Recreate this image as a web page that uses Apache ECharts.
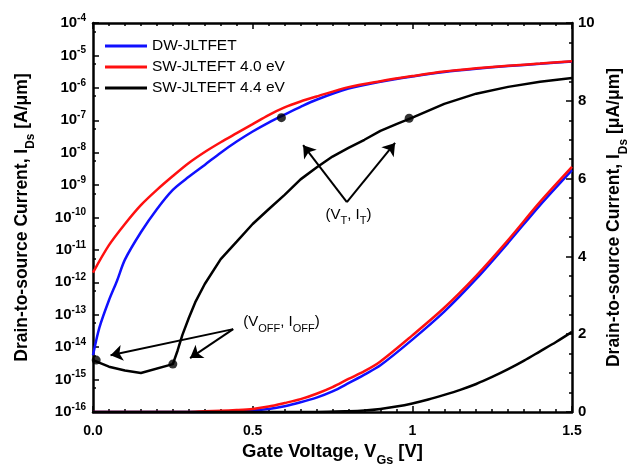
<!DOCTYPE html>
<html>
<head>
<meta charset="utf-8">
<script src="https://cdn.jsdelivr.net/npm/echarts@6/dist/echarts.min.js"></script>
<style>
  html, body { margin: 0; padding: 0; background: #fff; }
  #chart { width: 627px; height: 471px; }
</style>
</head>
<body>
<div id="chart"></div>
<script>
(function () {

    // series names (legend)
    var names = ['DW-JLTFET', 'SW-JLTEFT 4.0 eV', 'SW-JLTEFT 4.4 eV'];
    var colors = ['#1010ff', '#ff1010', '#000000'];

    // log scale curves, left axis [A/um]
    var vLogRed = [0, 0.05, 0.1, 0.15, 0.2, 0.25, 0.3, 0.35, 0.4, 0.45, 0.5, 0.55, 0.6, 0.65, 0.7, 0.8, 0.9, 1.0, 1.1, 1.2, 1.3, 1.4, 1.5];
    var iLogRed = [2.0e-12, 1.4e-11, 6.3e-11, 2.4e-10, 7.1e-10, 1.9e-9, 4.8e-9, 1.05e-8, 2.1e-8, 4.0e-8, 7.6e-8, 1.45e-7, 2.5e-7, 3.8e-7, 5.4e-7, 1.05e-6, 1.6e-6, 2.3e-6, 3.2e-6, 4.0e-6, 4.8e-6, 5.6e-6, 6.6e-6];

    var vLogBlue = [0, 0.02, 0.05, 0.075, 0.1, 0.15, 0.2, 0.25, 0.3, 0.35, 0.4, 0.45, 0.5, 0.55, 0.6, 0.65, 0.7, 0.8, 0.9, 1.0, 1.1, 1.2, 1.3, 1.4, 1.5];
    var iLogBlue = [5.6e-15, 4.0e-14, 2.8e-13, 1.1e-12, 5.0e-12, 3.5e-11, 1.8e-10, 7.1e-10, 1.8e-9, 4.2e-9, 1.0e-8, 2.2e-8, 4.5e-8, 8.5e-8, 1.5e-7, 2.6e-7, 4.3e-7, 9.5e-7, 1.55e-6, 2.25e-6, 3.1e-6, 3.9e-6, 4.7e-6, 5.5e-6, 6.5e-6];

    var vLogBlack = [0, 0.05, 0.1, 0.15, 0.25, 0.265, 0.28, 0.3, 0.32, 0.35, 0.4, 0.45, 0.5, 0.55, 0.6, 0.65, 0.7, 0.75, 0.8, 0.85, 0.9, 0.95, 1.0, 1.1, 1.2, 1.3, 1.4, 1.5];
    var iLogBlack = [4.0e-15, 2.5e-15, 1.9e-15, 1.6e-15, 3.0e-15, 7.9e-15, 2.4e-14, 7.9e-14, 2.4e-13, 8.9e-13, 5.2e-12, 1.8e-11, 6.3e-11, 1.8e-10, 5.0e-10, 1.5e-9, 3.5e-9, 7.6e-9, 1.4e-8, 2.5e-8, 4.7e-8, 7.6e-8, 1.2e-7, 3.2e-7, 6.6e-7, 1.07e-6, 1.55e-6, 2.0e-6];

    // linear curves, right axis [uA/um]
    var vLin = [0, 0.3, 0.35, 0.4, 0.45, 0.5, 0.55, 0.6, 0.65, 0.7, 0.75, 0.8, 0.85, 0.9, 1.0, 1.1, 1.2, 1.3, 1.4, 1.5];
    var iLinRed = [0, 0, 0.02, 0.03, 0.05, 0.08, 0.14, 0.23, 0.33, 0.47, 0.64, 0.85, 1.05, 1.3, 1.97, 2.68, 3.5, 4.42, 5.4, 6.3];
    var iLinBlue = [0, 0, 0, 0.01, 0.02, 0.04, 0.08, 0.15, 0.25, 0.37, 0.53, 0.74, 0.96, 1.2, 1.86, 2.58, 3.42, 4.35, 5.32, 6.22];

    var vLinBlack = [0, 0.7, 0.8, 0.85, 0.9, 0.95, 1.0, 1.05, 1.1, 1.15, 1.2, 1.25, 1.3, 1.35, 1.4, 1.45, 1.5];
    var iLinBlack = [0, 0, 0.02, 0.04, 0.08, 0.14, 0.22, 0.32, 0.44, 0.57, 0.72, 0.9, 1.1, 1.32, 1.56, 1.8, 2.06];

    // marked points (V_OFF, I_OFF) and (V_T, I_T)
    var dotPoints = [[0.01, 4.0e-15], [0.25, 3.0e-15], [0.59, 1.2e-7], [0.99, 1.15e-7]];

    // annotation arrows: [tail, head]
    var arrows = [
        [[0.439, 3.6e-14], [0.055, 5.6e-15]],
        [[0.439, 3.6e-14], [0.304, 4.6e-15]],
        [[0.795, 3.0e-10], [0.658, 1.7e-8]],
        [[0.795, 3.0e-10], [0.946, 2.0e-8]]
    ];
    var offLabelAt = [0.59, 5.9e-14];
    var tLabelAt = [0.8, 1.2e-10];

    function pairs(xs, ys) {
        var out = [];
        for (var i = 0; i < xs.length; i++) {
            out.push([xs[i], ys[i]]);
        }
        return out;
    }

    var font = '"Liberation Sans", Arial, sans-serif';

    var subRich = {
        n: {fontSize: 15, color: '#000', fontFamily: font, lineHeight: 24},
        s: {fontSize: 11, color: '#000', fontFamily: font, verticalAlign: 'bottom', lineHeight: 24}
    };

    function nameRich(size) {
        return {
            a: {fontSize: size, fontWeight: 'bold', color: '#000', fontFamily: font, lineHeight: 30},
            s: {fontSize: size * 0.68, fontWeight: 'bold', color: '#000', fontFamily: font, verticalAlign: 'bottom', lineHeight: 30}
        };
    }

    function lineSeries(name, data, color, yIndex, smooth) {
        return {
            name: name,
            type: 'line',
            yAxisIndex: yIndex,
            data: data,
            showSymbol: false,
            symbol: 'none',
            smooth: smooth,
            silent: true,
            lineStyle: {color: color, width: 2.5},
            itemStyle: {color: color},
            z: 3
        };
    }

    var axisLine = {show: true, onZero: false, lineStyle: {color: '#000', width: 2.5}};
    var axisTick = {show: true, inside: true, length: 6, lineStyle: {color: '#000', width: 1.5}};

    function minor(n) {
        return {show: true, splitNumber: n, length: 3, lineStyle: {color: '#000', width: 1.5}};
    }

    var chart = echarts.init(document.getElementById('chart'), null, {renderer: 'canvas'});

    var markLines = [];
    arrows.forEach(function (a) {
        markLines.push([{coord: a[0]}, {coord: a[1]}]);
    });

    var option = {
        animation: false,
        backgroundColor: '#fff',
        textStyle: {fontFamily: font},
        legend: {
            data: names,
            orient: 'vertical',
            left: 100,
            top: 33,
            icon: 'rect',
            itemWidth: 42,
            itemHeight: 3,
            itemGap: 5,
            textStyle: {fontSize: 15.5, color: '#000', fontFamily: font}
        },
        grid: {
            left: 93,
            right: 55,
            top: 23,
            bottom: 59,
            containLabel: false,
            outerBoundsMode: 'none'
        },
        xAxis: [{
            type: 'value',
            position: 'bottom',
            min: 0,
            max: 1.5,
            interval: 0.5,
            name: '{a|Gate Voltage, V}{s|Gs}{a| [V]}',
            nameLocation: 'middle',
            nameGap: 25,
            nameTextStyle: {rich: nameRich(18.5)},
            axisLine: axisLine,
            axisTick: axisTick,
            minorTick: minor(10),
            splitLine: {show: false},
            axisLabel: {
                margin: 12,
                fontSize: 14,
                fontWeight: 'bold',
                color: '#000',
                fontFamily: font,
                formatter: function (v) {
                    return v === 0 ? '0.0' : String(v);
                }
            }
        }, {
            type: 'value',
            position: 'top',
            min: 0,
            max: 1.5,
            interval: 0.5,
            axisLine: axisLine,
            axisTick: axisTick,
            minorTick: minor(10),
            splitLine: {show: false},
            axisLabel: {show: false}
        }],
        yAxis: [{
            type: 'log',
            logBase: 10,
            position: 'left',
            min: 1e-16,
            max: 1e-4,
            interval: 1,
            name: '{a|Drain-to-source Current, I}{s|Ds}{a| [A/\u03bcm]}',
            nameLocation: 'middle',
            nameGap: 56,
            nameTextStyle: {rich: nameRich(17.5)},
            axisLine: axisLine,
            axisTick: axisTick,
            minorTick: minor(2),
            splitLine: {show: false},
            axisLabel: {
                margin: 7,
                formatter: function (v) {
                    var e = Math.round(Math.log(v) / Math.LN10);
                    return '{b|10}{e|' + e + '}';
                },
                rich: {
                    b: {fontSize: 15, fontWeight: 'bold', color: '#000', fontFamily: font, lineHeight: 20},
                    e: {fontSize: 10, fontWeight: 'bold', color: '#000', fontFamily: font, verticalAlign: 'top', lineHeight: 20}
                }
            }
        }, {
            type: 'value',
            position: 'right',
            min: 0,
            max: 10,
            interval: 2,
            name: '{a|Drain-to-source Current, I}{s|Ds}{a| [\u03bcA/\u03bcm]}',
            nameLocation: 'middle',
            nameGap: 26,
            nameTextStyle: {rich: nameRich(17.5)},
            axisLine: axisLine,
            axisTick: axisTick,
            minorTick: minor(4),
            splitLine: {show: false},
            axisLabel: {
                margin: 6,
                fontSize: 15,
                fontWeight: 'bold',
                color: '#000',
                fontFamily: font
            }
        }],
        series: [
            lineSeries(names[0], pairs(vLogBlue, iLogBlue), colors[0], 0, 0.3),
            lineSeries(names[1], pairs(vLogRed, iLogRed), colors[1], 0, 0.3),
            lineSeries(names[0], pairs(vLin, iLinBlue), colors[0], 1, 0.3),
            lineSeries(names[1], pairs(vLin, iLinRed), colors[1], 1, 0.3),
            lineSeries(names[2], pairs(vLinBlack, iLinBlack), colors[2], 1, 0.3),
            (function () {
                var s = lineSeries(names[2], pairs(vLogBlack, iLogBlack), colors[2], 0, false);
                s.markLine = {
                    silent: true,
                    symbol: ['none', 'arrow'],
                    symbolSize: 12,
                    label: {show: false},
                    lineStyle: {color: '#000', width: 2, type: 'solid'},
                    data: markLines
                };
                s.markPoint = {
                    silent: true,
                    symbol: 'circle',
                    symbolSize: 1,
                    itemStyle: {color: 'rgba(0,0,0,0)'},
                    data: [{
                        coord: offLabelAt,
                        label: {
                            show: true,
                            position: 'inside',
                            formatter: '{n|(V}{s|OFF}{n|, I}{s|OFF}{n|)}',
                            rich: subRich
                        }
                    }, {
                        coord: tLabelAt,
                        label: {
                            show: true,
                            position: 'inside',
                            formatter: '{n|(V}{s|T}{n|, I}{s|T}{n|)}',
                            rich: subRich
                        }
                    }]
                };
                return s;
            })(),
            {
                name: 'points',
                type: 'scatter',
                yAxisIndex: 0,
                data: dotPoints,
                symbol: 'circle',
                symbolSize: 9,
                silent: true,
                itemStyle: {color: '#000'},
                z: 5
            }
        ]
    };

    chart.setOption(option);

})();
</script>
</body>
</html>
